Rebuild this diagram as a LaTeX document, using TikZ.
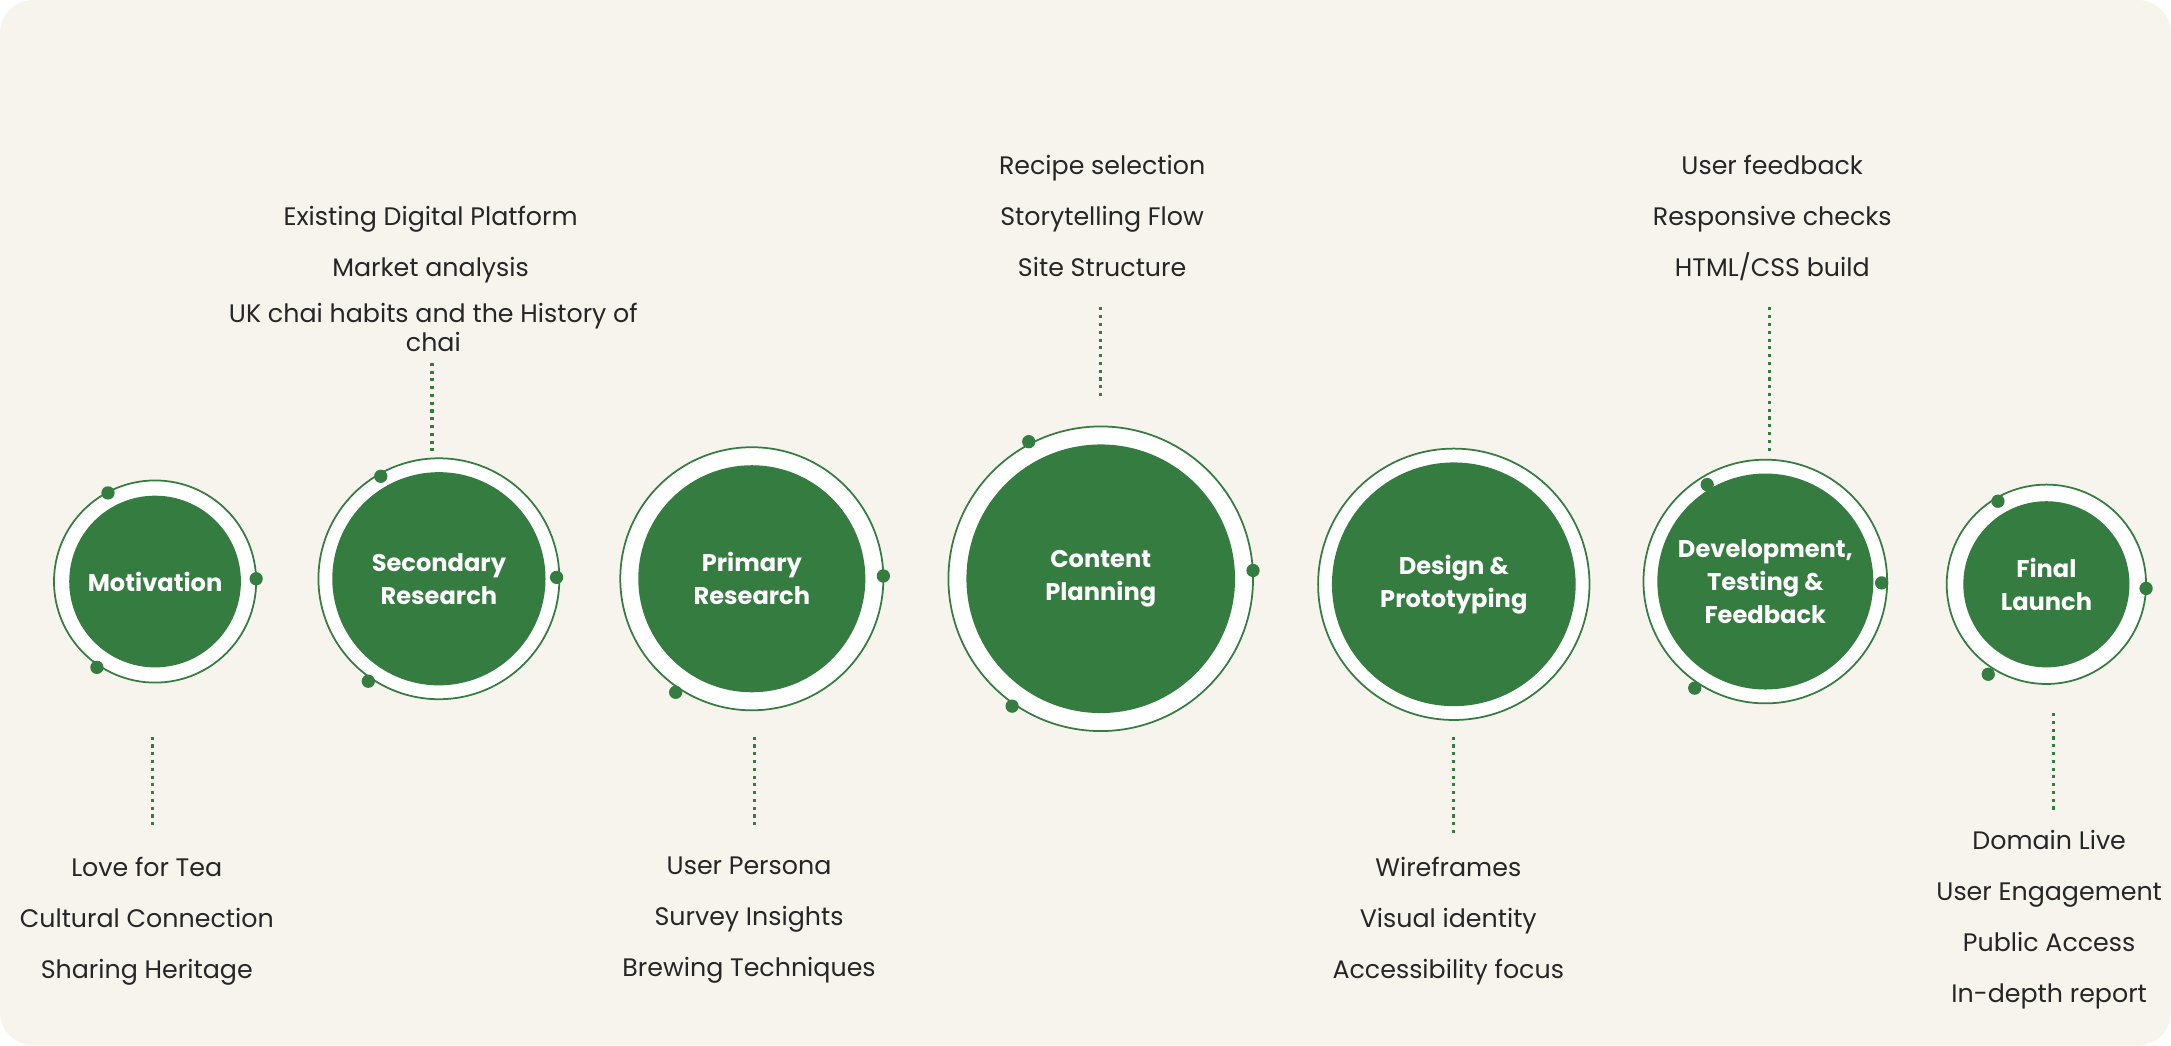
\documentclass[tikz,border=0pt]{standalone}
\usepackage{fontspec}
\setmainfont{Poppins}
\begin{document}
\begin{tikzpicture}[x=0.25mm,y=-0.25mm,
  ring/.style={draw=gr,line width=0.9pt,fill=white},
  core/.style={circle,fill=gr,text=white,font=\fontsize{12.4}{17}\selectfont\bfseries,align=center,inner sep=0pt},
  dot/.style={circle,fill=gr,inner sep=0pt,minimum size=2.4mm},
  lab/.style={font=\fontsize{13}{9.2mm}\selectfont,align=center,text=black!85},
  link/.style={draw=gr,line width=1.6pt,dash pattern=on 1.6pt off 2.4pt}]
\definecolor{gr}{HTML}{347C40}
\definecolor{bgc}{HTML}{F7F4EE}
\useasboundingbox (0,0) rectangle (1568,755);
\fill[white] (0,0) rectangle (1568,755);
\fill[bgc,rounded corners=6mm] (0,0) rectangle (1568,755);
\foreach \n/\cx/\cy/\ri/\ro/\t in {m/112/420/62/73/Motivation,
  s/317/418/77/87/{Secondary\\Research},
  p/543/418/82/95/{Primary\\Research},
  c/795/418/97/110/{Content\\Planning},
  d/1050/422/88/98/{Design \&\\Prototyping},
  v/1275/420/78/88/{Development,\\Testing \&\\Feedback},
  f/1478/422/60/72/{Final\\Launch}}{
  \draw[ring] (\cx,\cy) circle (\ro);
  \node[core,minimum size=2*\ri*0.25mm] (\n) at (\cx,\cy) {\t};
}
\foreach \x/\y in {78/356,185/418,70/482, 275/344,402/417,266/492, 638/416,488/500,
  743/319,905/412,731/510, 1233/350,1359/421,1224/497, 1443/362,1550/425,1436/487}
  \node[dot] at (\x,\y) {};
\coordinate (m1) at (110,532); \coordinate (m2) at (110,596);
\coordinate (s1) at (312,262); \coordinate (s2) at (312,326);
\coordinate (p1) at (545,532); \coordinate (p2) at (545,596);
\coordinate (c1) at (795,222); \coordinate (c2) at (795,288);
\coordinate (d1) at (1050,532); \coordinate (d2) at (1050,602);
\coordinate (v1) at (1278,222); \coordinate (v2) at (1278,326);
\coordinate (f1) at (1483,515); \coordinate (f2) at (1483,586);
\foreach \a in {m,s,p,c,d,v,f} \draw[link] (\a1) -- (\a2);
\node[lab,anchor=north] (tm) at (106,614) {Love for Tea\\Cultural Connection\\Sharing Heritage};
\node[lab,anchor=north] (ts) at (311,144) {Existing Digital Platform\\Market analysis};
\node[lab,anchor=north,font=\fontsize{13}{5.2mm}\selectfont] (ts2) at (313,214) {UK chai habits and the History of\\chai};
\node[lab,anchor=north] (tp) at (541,614) {User Persona\\Survey Insights\\Brewing Techniques};
\node[lab,anchor=north] (tc) at (796,107) {Recipe selection\\Storytelling Flow\\Site Structure};
\node[lab,anchor=north] (td) at (1046,614) {Wireframes\\Visual identity\\Accessibility focus};
\node[lab,anchor=north] (tv) at (1280,107) {User feedback\\Responsive checks\\HTML/CSS build};
\node[lab,anchor=north] (tf) at (1480,595) {Domain Live\\User Engagement\\Public Access\\In-depth report};
\end{tikzpicture}
\end{document}
